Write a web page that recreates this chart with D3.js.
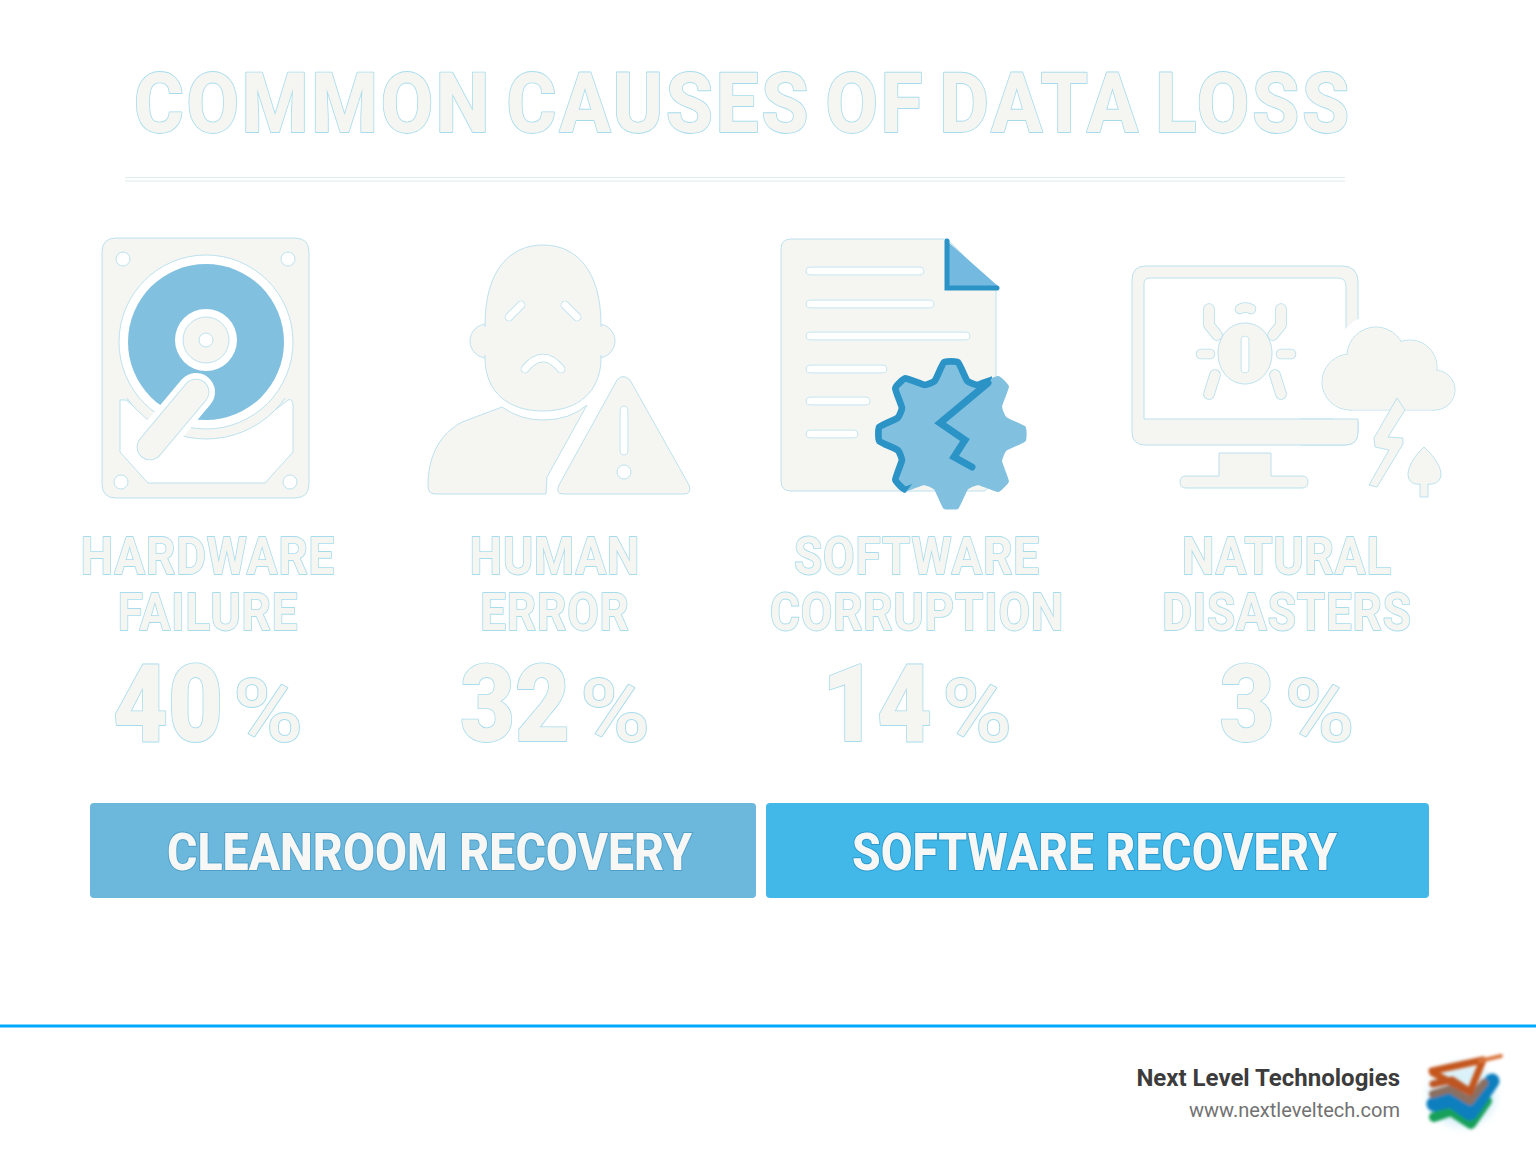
<!DOCTYPE html>
<html>
<head>
<meta charset="utf-8">
<title>Common causes of data loss</title>
<script src="https://cdn.jsdelivr.net/npm/d3@7"></script>
<style>
  html, body { margin: 0; padding: 0; background: #fff; }
  svg { display: block; }
  text { font-family: Roboto, sans-serif; }
</style>
</head>
<body>
<div id="chart"></div>
<script>
// Chart content
const title = "COMMON CAUSES OF DATA LOSS";
const causes = ["Hardware", "Human", "Software", "Natural"];
const labelTop = ["HARDWARE", "HUMAN", "SOFTWARE", "NATURAL"];
const labelBottom = ["FAILURE", "ERROR", "CORRUPTION", "DISASTERS"];
const percents = [40, 32, 14, 3];
const banners = ["CLEANROOM RECOVERY", "SOFTWARE RECOVERY"];
const company = "Next Level Technologies";
const website = "www.nextleveltech.com";

// Colours
const GHOST = "#f5f5f2";
const EDGE = "#b4dfec";
const TEXT_EDGE = "#a6dcec";
const BLUE = "#82c0e0";
const DARK_BLUE = "#2b93c5";
const EDGE_W = 0.9;

const svg = d3.select("#chart").append("svg")
    .attr("width", 1536)
    .attr("height", 1154);

const defs = svg.append("defs");
defs.append("filter").attr("id", "smear")
    .attr("x", "-20%").attr("y", "-20%").attr("width", "140%").attr("height", "140%")
    .append("feGaussianBlur").attr("stdDeviation", 1.5);
defs.append("filter").attr("id", "glow")
    .attr("x", "-30%").attr("y", "-30%").attr("width", "160%").attr("height", "160%")
    .append("feGaussianBlur").attr("stdDeviation", 4);
defs.append("clipPath").attr("id", "gearEdgeClip").append("path")
    .attr("d", "M860,500 L900,500 L992,378 L992,340 L860,340 Z");
defs.append("clipPath").attr("id", "lowerBand").append("rect")
    .attr("x", 100).attr("y", 398).attr("width", 210).attr("height", 100);

// Column centres of the four causes
const xCol = d3.scaleOrdinal().domain(causes).range([208, 555, 917, 1287]);

// Outlined ghost text, the stroke goes under the fill so only the outer edge shows
function ghostText(sel) {
    return sel.attr("fill", GHOST).attr("stroke", TEXT_EDGE).attr("stroke-width", 1.8)
        .attr("paint-order", "stroke").attr("stroke-linejoin", "round");
}

// Scale a text to k of its natural width
function squeeze(sel, k) {
    sel.each(function() {
        const len = this.getComputedTextLength();
        d3.select(this).attr("textLength", len * k).attr("lengthAdjust", "spacingAndGlyphs");
    });
    return sel;
}

// Title and divider
ghostText(svg.append("text"))
    .attr("x", 134).attr("y", 132)
    .attr("font-size", 83).attr("font-weight", 800).attr("letter-spacing", 3).attr("word-spacing", -8)
    .attr("textLength", 1218).attr("lengthAdjust", "spacingAndGlyphs")
    .text(title);

[177.5, 181].forEach(y => {
    svg.append("line").attr("x1", 125).attr("x2", 1345).attr("y1", y).attr("y2", y)
        .attr("stroke", "#dcedea").attr("stroke-width", 1.2);
});

// Cause labels and percentages
const columns = svg.selectAll(".cause")
    .data(causes)
    .enter()
    .append("g")
    .attr("class", "cause");

squeeze(ghostText(columns.append("text"))
    .attr("x", d => xCol(d)).attr("y", 574)
    .attr("text-anchor", "middle")
    .attr("font-size", 52).attr("font-weight", 700).attr("letter-spacing", 1)
    .text((d, i) => labelTop[i]), 0.88);

squeeze(ghostText(columns.append("text"))
    .attr("x", d => xCol(d)).attr("y", 630)
    .attr("text-anchor", "middle")
    .attr("font-size", 52).attr("font-weight", 700).attr("letter-spacing", 1)
    .text((d, i) => labelBottom[i]), 0.88);

// number and percent sign are laid out as a pair around the column centre
const PCT_GAP = 10;
columns.each(function(d, i) {
    const g = d3.select(this);
    const num = squeeze(ghostText(g.append("text"))
        .attr("y", 741)
        .attr("font-size", 108).attr("font-weight", 900)
        .text(percents[i]), 0.88);
    const sign = squeeze(ghostText(g.append("text"))
        .attr("y", 741)
        .attr("font-size", 88).attr("font-weight", 500)
        .text("%"), 1.08);
    const numW = +num.attr("textLength");
    const signW = +sign.attr("textLength");
    const left = xCol(d) - (numW + PCT_GAP + signW) / 2;
    num.attr("x", left);
    sign.attr("x", left + numW + PCT_GAP);
});

// Banners
const bannerLeft = d3.scaleOrdinal().domain(banners).range([90, 766]);
const bannerRight = d3.scaleOrdinal().domain(banners).range([756, 1429]);
const bannerFill = d3.scaleOrdinal().domain(banners).range(["#6cb7dc", "#42b8e8"]);
const bannerEdge = d3.scaleOrdinal().domain(banners).range(["#4f9fc9", "#2a98cc"]);

svg.selectAll(".banner")
    .data(banners)
    .enter()
    .append("rect")
    .attr("class", "banner")
    .attr("x", d => bannerLeft(d)).attr("y", 803)
    .attr("width", d => bannerRight(d) - bannerLeft(d)).attr("height", 95)
    .attr("rx", 4)
    .attr("fill", d => bannerFill(d));

svg.selectAll(".banner-label")
    .data(banners)
    .enter()
    .append("text")
    .attr("class", "banner-label")
    .attr("x", (d, i) => (bannerLeft(d) + bannerRight(d)) / 2 + [6.5, -3][i]).attr("y", 870)
    .attr("text-anchor", "middle")
    .attr("fill", "#f7f8f5")
    .attr("stroke", d => bannerEdge(d)).attr("stroke-width", 2).attr("paint-order", "stroke")
    .attr("font-size", 52).attr("font-weight", 800)
    .attr("textLength", (d, i) => [525, 485][i])
    .attr("lengthAdjust", "spacingAndGlyphs")
    .text(d => d);

// Footer
svg.append("rect").attr("x", 0).attr("y", 1024.5).attr("width", 1536).attr("height", 3).attr("fill", "#00aaff");

svg.append("text")
    .attr("x", 1400).attr("y", 1086)
    .attr("text-anchor", "end")
    .attr("fill", "#3c3c3c")
    .attr("font-size", 24).attr("font-weight", 700)
    .text(company);

svg.append("text")
    .attr("x", 1400).attr("y", 1117)
    .attr("text-anchor", "end")
    .attr("fill", "#727272")
    .attr("font-size", 20)
    .text(website);

// Small drawing helpers for the icons
function shape(g, d, fill = GHOST, edge = EDGE) {
    return g.append("path").attr("d", d).attr("fill", fill)
        .attr("stroke", edge).attr("stroke-width", EDGE_W).attr("stroke-linejoin", "round");
}
function disc(g, cx, cy, r, fill = GHOST, edge = EDGE) {
    return g.append("circle").attr("cx", cx).attr("cy", cy).attr("r", r).attr("fill", fill)
        .attr("stroke", edge).attr("stroke-width", EDGE_W);
}
function capsule(g, d, w, fill) {
    g.append("path").attr("d", d).attr("fill", "none").attr("stroke", EDGE)
        .attr("stroke-width", w + 1.6).attr("stroke-linecap", "round").attr("stroke-linejoin", "round");
    g.append("path").attr("d", d).attr("fill", "none").attr("stroke", fill)
        .attr("stroke-width", w).attr("stroke-linecap", "round").attr("stroke-linejoin", "round");
}

// Hard drive icon
const drive = svg.append("g");
shape(drive, "M116,238 H295 Q309,238 309,252 V484 Q309,498 295,498 H116 Q102,498 102,484 V252 Q102,238 116,238 Z");
[[123, 259], [288, 259], [121, 482], [290, 482]].forEach(p => disc(drive, p[0], p[1], 7, "#fff"));
shape(drive, "M120,400 L126,400 L150,420 L262,420 L288,400 Q293,398 293,406 V452 L265,483 L148,483 L120,452 Z", "#fff");
disc(drive, 206, 342, 97).attr("clip-path", "url(#lowerBand)");
drive.append("rect").attr("x", 104).attr("y", 330).attr("width", 15).attr("height", 68).attr("fill", GHOST);
drive.append("rect").attr("x", 294).attr("y", 330).attr("width", 13).attr("height", 68).attr("fill", GHOST);
disc(drive, 206, 342, 87, "#fff");
disc(drive, 206, 342, 78, BLUE, "none");
disc(drive, 206, 340, 31, "#fff", "none");
disc(drive, 206, 340, 23);
disc(drive, 206, 340, 7, "#fff");
drive.append("path").attr("d", "M196,392 L150,447").attr("stroke", "#fff")
    .attr("stroke-width", 38).attr("stroke-linecap", "round");
capsule(drive, "M196,392 L150,447", 25, GHOST);

// Person with warning sign
const person = svg.append("g");
shape(person, "M502,407 Q520,420 543,420 Q570,420 587,405 L547,477 L546,494 H435 Q428,494 428,486 C428,455 440,434 462,422 Z");
disc(person, 487, 341, 17);
disc(person, 598, 341, 17);
shape(person, "M485,325 C485,270 510,245 543,245 C576,245 601,270 601,325 V360 C600,392 578,411 543,411 C508,411 486,392 485,360 Z");
person.append("rect").attr("x", 480).attr("y", 327).attr("width", 126).attr("height", 28).attr("fill", GHOST);
capsule(person, "M509,317 L521,305", 7, "#fff");
capsule(person, "M565,305 L577,317", 7, "#fff");
capsule(person, "M525,369 Q543,347 561,369", 7, "#fff");
shape(person, "M617,380 Q623,373 630,380 L689,485 Q692,494 684,494 H563 Q555,494 559,485 Z");
capsule(person, "M624,410 V451", 7, "#fff");
disc(person, 624, 472, 7, "#fff");

// Document with broken gear
const doc = svg.append("g");
shape(doc, "M791,239 H947 L996,288 V470 Q996,480 985,491 H791 Q781,491 781,481 V249 Q781,239 791,239 Z");
[[271, 924], [304, 934], [336, 970], [369, 887], [401, 870], [434, 858]].forEach(l => {
    capsule(doc, `M810,${l[0]} H${l[1] - 4}`, 7, "#fff");
});
doc.append("path").attr("d", "M947,241 L999,287 L947,288 Z").attr("fill", "#74b9df");
doc.append("path").attr("d", "M947,241 V288 H997").attr("fill", "none")
    .attr("stroke", DARK_BLUE).attr("stroke-width", 5).attr("stroke-linecap", "round");

// gear outline built from eight teeth
const gearRadii = d3.range(32).map(i => (i % 4 < 2 ? 75 : 58));
const gearPath = d3.lineRadial()
    .angle((d, i) => (i - 0.5) * Math.PI / 16)
    .radius(d => d)
    .curve(d3.curveCardinalClosed.tension(0.6));
doc.append("path")
    .attr("transform", "translate(951,434)")
    .attr("d", gearPath(gearRadii)).attr("fill", BLUE);
doc.append("g").attr("clip-path", "url(#gearEdgeClip)")
    .append("path")
    .attr("transform", "translate(951,434) scale(0.96)")
    .attr("d", gearPath(gearRadii)).attr("fill", "none")
    .attr("stroke", DARK_BLUE).attr("stroke-width", 7);
doc.append("path").attr("d", "M988,383 L940,423 L965,440 L954,457 L972,467")
    .attr("fill", "none").attr("stroke", DARK_BLUE).attr("stroke-width", 7)
    .attr("stroke-linecap", "round").attr("stroke-linejoin", "miter");

// Monitor with bug and storm
const monitor = svg.append("g");
shape(monitor, "M1146,266 H1342 Q1358,266 1358,282 V432 Q1358,445 1345,445 H1145 Q1132,445 1132,432 V280 Q1132,266 1146,266 Z");
shape(monitor, "M1150,278 H1338 Q1346,278 1346,286 V419 H1144 V284 Q1144,278 1150,278 Z", "#fff");
shape(monitor, "M1219,453 H1271 V476 H1302 Q1308,476 1308,482 T1302,488 H1186 Q1180,488 1180,482 T1186,476 H1219 Z");
shape(monitor, "M1245,323 C1262,323 1272,338 1272,353 C1272,371 1260,384 1245,384 C1230,384 1218,371 1218,353 C1218,338 1228,323 1245,323 Z");
capsule(monitor, "M1245,340 V369", 7, "#fff");
capsule(monitor, "M1240,309 Q1245,306 1251,309", 9, GHOST);
capsule(monitor, "M1209,309 V325 L1217,335", 10, GHOST);
capsule(monitor, "M1281,309 V325 L1273,335", 10, GHOST);
capsule(monitor, "M1201,354 H1210", 9, GHOST);
capsule(monitor, "M1281,354 H1291", 9, GHOST);
capsule(monitor, "M1215,375 L1209,394", 10, GHOST);
capsule(monitor, "M1275,375 L1281,394", 10, GHOST);

const cloudParts = [[1376, 356, 29], [1410, 367, 27], [1435, 390, 20], [1350, 382, 28]];
const storm = svg.append("g");
// white halo cutting the monitor, then the outline, then the fill on top
cloudParts.forEach(c => storm.append("circle").attr("cx", c[0]).attr("cy", c[1]).attr("r", c[2] + 12).attr("fill", "#fff"));
storm.append("rect").attr("x", 1335).attr("y", 395).attr("width", 112).attr("height", 26).attr("fill", "#fff");
// the chin of the monitor stays whole below the cloud
shape(storm, "M1300,419 H1358 V432 Q1358,445 1345,445 H1300").attr("stroke", "none");
storm.append("path").attr("d", "M1300,419 H1358 V432 Q1358,445 1345,445 H1300").attr("fill", "none")
    .attr("stroke", EDGE).attr("stroke-width", EDGE_W);
cloudParts.forEach(c => disc(storm, c[0], c[1], c[2]));
storm.append("rect").attr("x", 1350).attr("y", 392).attr("width", 85).attr("height", 18)
    .attr("fill", GHOST).attr("stroke", EDGE).attr("stroke-width", EDGE_W);
cloudParts.forEach(c => storm.append("circle").attr("cx", c[0]).attr("cy", c[1]).attr("r", c[2] - 0.5).attr("fill", GHOST));
storm.append("rect").attr("x", 1350).attr("y", 380).attr("width", 85).attr("height", 29.6).attr("fill", GHOST);
shape(storm, "M1397,398 L1405,410 L1388,437 L1403,438 L1403,444 L1377,487 L1369,485 L1389,450 L1375,447 L1374,438 Z");
shape(storm, "M1424,447 C1432,454 1441,466 1441,474 C1441,482 1434,485 1428,484 V497 H1420 V484 C1414,485 1408,482 1408,474 C1408,466 1416,454 1424,447 Z");

// Company logo, a smeared stack of zigzags
svg.append("ellipse").attr("cx", 1462).attr("cy", 1095).attr("rx", 34).attr("ry", 32)
    .attr("fill", "#bfe6f6").attr("opacity", 0.55).attr("filter", "url(#glow)");
const logo = svg.append("g").attr("filter", "url(#smear)").attr("fill", "none")
    .attr("stroke-linejoin", "round").attr("stroke-linecap", "round");
const smear = (d, c, w, o = 1) => logo.append("path").attr("d", d).attr("stroke", c).attr("stroke-width", w).attr("opacity", o);
smear("M1434,1117 L1451,1111 L1471,1124 L1487,1101", "#16a05a", 10);
smear("M1434,1104 L1451,1100 L1470,1113 L1492,1081", "#0f7fbe", 15);
smear("M1433,1094 L1450,1089 L1470,1101 L1484,1083", "#8b6f60", 8);
smear("M1432,1071 L1483,1060 L1470,1092 L1433,1073", "#c4561f", 7);
smear("M1433,1084 L1452,1080 L1470,1092", "#bd5420", 7);
smear("M1480,1061 L1501,1056", "#d9763c", 4);
</script>
</body>
</html>
